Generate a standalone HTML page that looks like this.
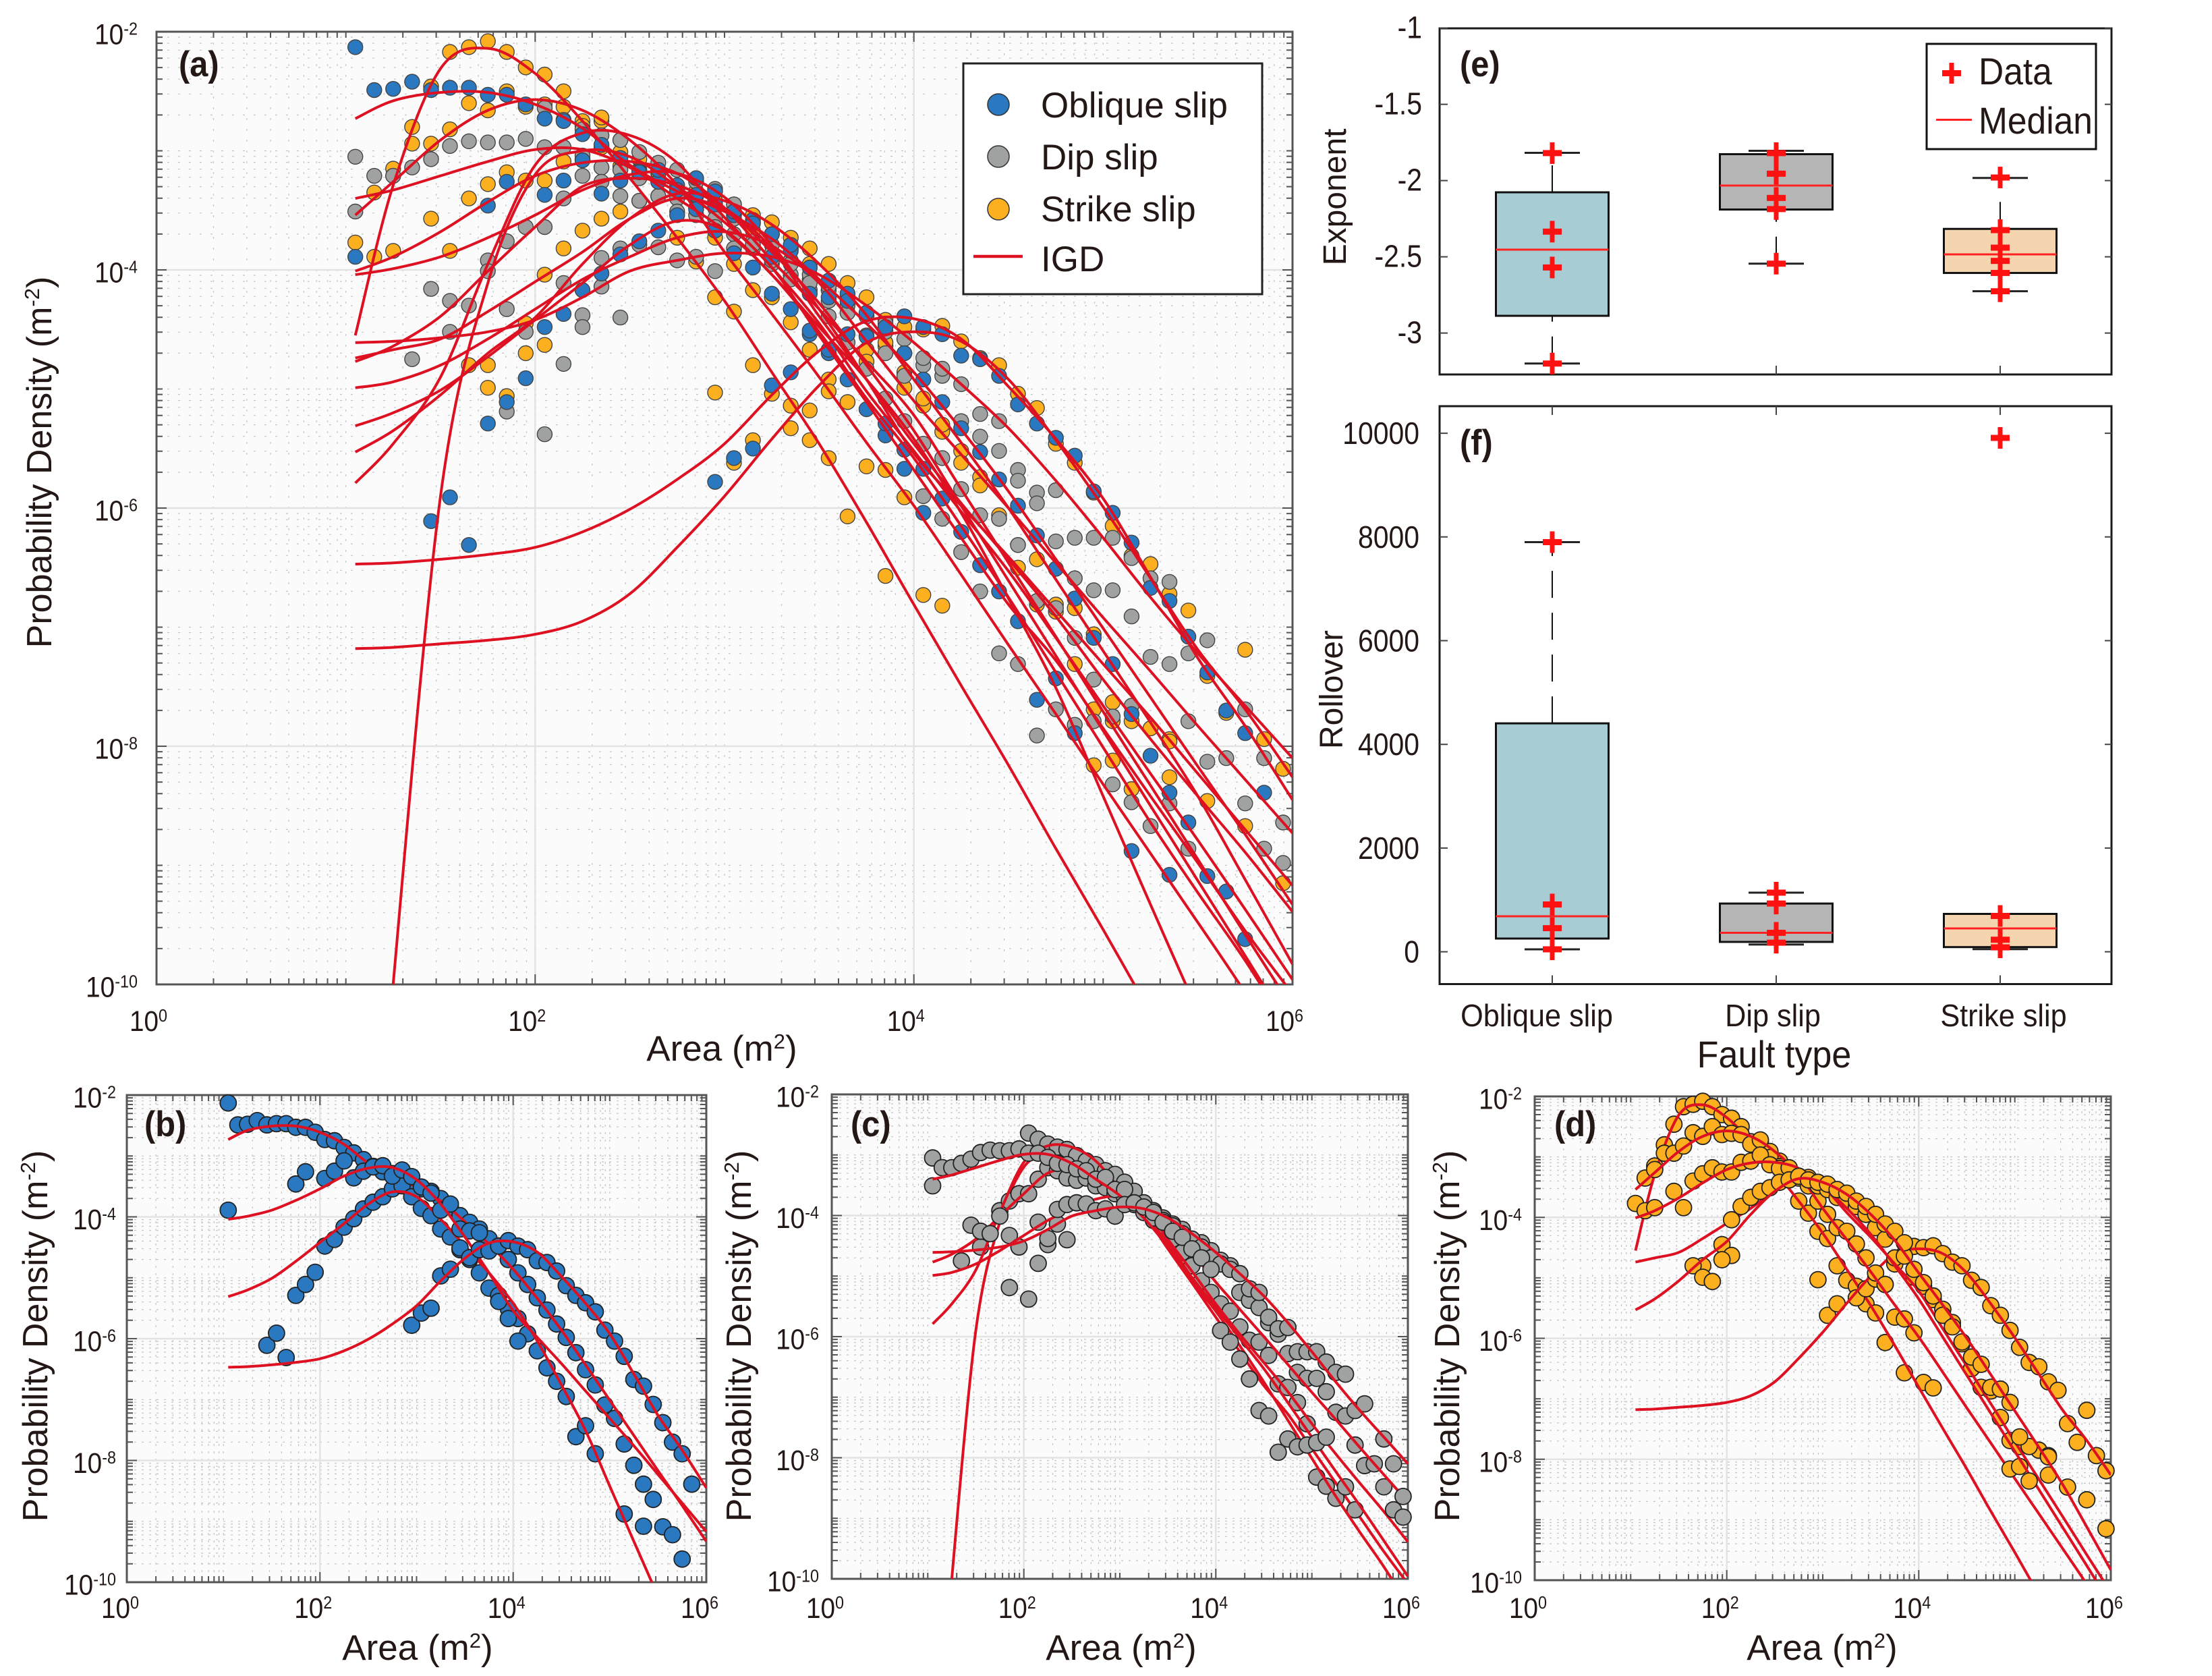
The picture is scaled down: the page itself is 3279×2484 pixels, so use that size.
<!DOCTYPE html>
<html lang="en">
<head>
<meta charset="utf-8">
<title>Fault area probability density</title>
<style>
html,body{margin:0;padding:0;background:#fff;width:3279px;height:2484px;overflow:hidden;}
svg{display:block;font-family:"Liberation Sans",Arial,sans-serif;fill:#231815;overflow:hidden;}
text{fill:#231815;}
</style>
</head>
<body>
<svg id="figure" xmlns="http://www.w3.org/2000/svg" width="3279" height="2484" viewBox="0 0 3279 2484">
  <rect x="0" y="0" width="3279" height="2484" style="fill:#fff"/>
  <g id="panel-a"></g>
  <g id="panel-b"></g>
  <g id="panel-c"></g>
  <g id="panel-d"></g>
  <g id="panel-e"></g>
  <g id="panel-f"></g>

  <!-- axis titles -->
  <text transform="translate(76,685) rotate(-90)" text-anchor="middle" font-size="52">Probability Density (m<tspan dy="-18" font-size="31">-2</tspan><tspan dy="18">)</tspan></text>
  <text x="1070" y="1572" text-anchor="middle" font-size="53">Area (m<tspan dy="-18" font-size="31">2</tspan><tspan dy="18">)</tspan></text>
  <text transform="translate(70,1980) rotate(-90)" text-anchor="middle" font-size="52">Probability Density (m<tspan dy="-18" font-size="31">-2</tspan><tspan dy="18">)</tspan></text>
  <text x="619" y="2460" text-anchor="middle" font-size="53">Area (m<tspan dy="-18" font-size="31">2</tspan><tspan dy="18">)</tspan></text>
  <text transform="translate(1113,1980) rotate(-90)" text-anchor="middle" font-size="52">Probability Density (m<tspan dy="-18" font-size="31">-2</tspan><tspan dy="18">)</tspan></text>
  <text x="1662" y="2460" text-anchor="middle" font-size="53">Area (m<tspan dy="-18" font-size="31">2</tspan><tspan dy="18">)</tspan></text>
  <text transform="translate(2163,1980) rotate(-90)" text-anchor="middle" font-size="52">Probability Density (m<tspan dy="-18" font-size="31">-2</tspan><tspan dy="18">)</tspan></text>
  <text x="2701" y="2460" text-anchor="middle" font-size="53">Area (m<tspan dy="-18" font-size="31">2</tspan><tspan dy="18">)</tspan></text>
  <text transform="translate(1995,292) rotate(-90)" text-anchor="middle" font-size="48">Exponent</text>
  <text transform="translate(1990,1022) rotate(-90)" text-anchor="middle" font-size="48">Rollover</text>
  <text transform="translate(2630,1582) scale(.93,1)" text-anchor="middle" font-size="56">Fault type</text>
  <text transform="translate(2278,1521) scale(.94,1)" text-anchor="middle" font-size="46">Oblique slip</text>
  <text transform="translate(2628,1521) scale(.94,1)" text-anchor="middle" font-size="46">Dip slip</text>
  <text transform="translate(2970,1521) scale(.94,1)" text-anchor="middle" font-size="46">Strike slip</text>

  <!-- panel letters -->
  <text transform="translate(265,113) scale(.92,1)" font-size="53" font-weight="bold">(a)</text>
  <text transform="translate(214,1684) scale(.92,1)" font-size="53" font-weight="bold">(b)</text>
  <text transform="translate(1261,1684) scale(.92,1)" font-size="53" font-weight="bold">(c)</text>
  <text transform="translate(2304,1684) scale(.92,1)" font-size="53" font-weight="bold">(d)</text>
  <text transform="translate(2164,113) scale(.92,1)" font-size="53" font-weight="bold">(e)</text>
  <text transform="translate(2164,674) scale(.92,1)" font-size="53" font-weight="bold">(f)</text>

  <!-- legend a -->
  <g>
    <rect x="1428" y="94" width="443" height="342" style="fill:#fff;stroke:#222;stroke-width:3"/>
    <circle cx="1480" cy="155" r="16" style="fill:#2a78c0;stroke:#333;stroke-width:1.5"/>
    <text x="1543" y="174" font-size="53">Oblique slip</text>
    <circle cx="1480" cy="232" r="16" style="fill:#a0a2a2;stroke:#333;stroke-width:1.5"/>
    <text x="1543" y="251" font-size="53">Dip slip</text>
    <circle cx="1480" cy="310" r="16" style="fill:#fdb01f;stroke:#333;stroke-width:1.5"/>
    <text x="1543" y="328" font-size="53">Strike slip</text>
    <line x1="1443" y1="380" x2="1516" y2="380" style="stroke:#dd1122;stroke-width:4.5"/>
    <text x="1543" y="402" font-size="53">IGD</text>
  </g>

  <g id="panel-e-legend">
    <rect x="2856" y="65" width="251" height="156" style="fill:#fff;stroke:#111;stroke-width:3"/>
    <rect x="2879" y="104" width="28" height="9" style="fill:#fe1111"/>
    <rect x="2889.5" y="93" width="7" height="31" style="fill:#fe1111"/>
    <text transform="translate(2933,125) scale(.92,1)" font-size="56">Data</text>
    <line x1="2870" y1="177.500" x2="2923" y2="177.500" style="stroke:#f22;stroke-width:3"/>
    <text transform="translate(2933,198) scale(.92,1)" font-size="56">Median</text>
  </g>
</svg>

<script>
const _ = null;
// ---------- categories ----------
const areaBinsLog = [1.05,1.15,1.25,1.35,1.45,1.55,1.65,1.75,1.85,1.95,2.05,2.15,2.25,2.35,2.45,2.55,2.65,2.75,2.85,2.95,3.05,3.15,3.25,3.35,3.45,3.55,3.65,3.75,3.85,3.95,4.05,4.15,4.25,4.35,4.45,4.55,4.65,4.75,4.85,4.95,5.05,5.15,5.25,5.35,5.45,5.55,5.65,5.75,5.85,5.95];
const curveLogAreas = [1.05,1.25,1.5,1.75,2,2.25,2.5,2.75,3,3.25,3.5,3.75,4,4.25,4.5,4.75,5,5.25,5.5,5.75,6];
const xTickExponents = [0,2,4,6];
const yTickExponents = [-2,-4,-6,-8,-10];

// ---------- oblique slip points (log10 density per area bin) ----------
const obliquePoints1 = [-2.13,-2.49,-2.48,-2.42,-2.49,-2.47,-2.47,-2.53,-2.53,-2.61,
 -2.73,-2.75,-2.86,-2.95,-3.06,-3.17,-3.26,-3.29,-3.37,-3.45,
 -3.54,-3.58,-3.70,-3.84,-3.98,-4.09,-4.20,-4.36,-4.48,-4.70,
 -4.92,-5.11,-5.33,-5.53,-5.76,-5.98,-6.23,-6.51,-6.76,-7.09,
 -7.31,-7.73,-8.08,-8.39,-8.64,-9.09,-9.22,-9.62];
const obliquePoints2 = [-3.89,_,_,_,_,_,_,-3.46,-3.26,_,
 -3.37,-3.25,-3.08,-3.36,-3.25,-3.18,-3.16,-3.33,-3.23,-3.34,
 -3.51,-3.61,-3.89,-3.79,-4.20,-4.23,-4.26,_,-5.39,-5.67,-6.04];
const obliquePoints3 = [_,_,_,_,_,_,_,-5.29,-5.11,-4.91,
 -4.48,-4.37,-4.17,-4.03,-3.87,-3.76,-3.67,-3.54,-3.49,-3.67,
 -3.86,-3.98,-4.20,-4.33,-4.54,-4.70,-4.92,-5.17,-5.29,-5.51,
 -5.67,-5.92,-6.20,-6.48,-6.70,-6.95,-7.61,-7.43,-7.89,_,
 _,-8.88,_,-9.08];
const obliquePoints4 = [_,_,_,_,-6.11,-5.91,-6.31,_,_,_,
 _,_,_,_,_,_,_,_,_,-5.78,
 -5.58,-5.50,-4.97,-4.86,-4.51,-4.67,-4.54,-4.56,-4.48,-4.39,
 -4.48,-4.54,-4.72,-4.75,-4.89,-5.13,-5.29,-5.41,-5.56,-5.86,
 -6.04,-6.29,-6.67,-6.78,-7.08,-7.38,-7.70,-7.89,-8.39];

// ---------- dip slip points ----------
const dipPoints1 = [-3.05,-3.21,-3.21,-3.14,-3.07,-2.96,-2.92,-2.93,-2.93,-2.90,
 -2.97,-2.97,-3.04,-3.14,-3.16,-3.23,-3.26,-3.40,-3.37,-3.57,
 -3.57,-3.82,-3.95,-4.04,-4.08,-4.17,-4.30,-4.39,-4.52,-4.70,
 -4.80,-4.89,-4.96,-5.21,-5.27,-5.68,-5.87,-5.85,-6.25,-6.25,
 -6.25,-6.42,-6.59,-6.62,-7.22,-7.11,_,-7.69,-8.10,-8.64];
const dipPoints2 = [_,_,_,_,_,_,_,_,_,_,
 -2.64,-2.74,-2.82,-2.87,-2.91,-3.01,-3.10,-3.16,-3.26,-3.32,
 -3.45,-3.60,-3.79,-3.92,-4.04,-4.14,-4.23,-4.39,-4.45,-4.58,
 -4.74,-4.83,-5.27,-5.40,-5.52,-5.77,-5.96,-6.28,-6.59,-6.69,
 -6.69,-6.91,-7.25,-7.31,-7.79,-8.13,-8.10,-8.48,-8.86,-8.98];
const dipPoints3 = [-3.51,_,_,_,_,_,_,-3.92,-3.76,-3.64,
 -3.64,-3.40,-3.21,-3.26,-3.38,-3.42,-3.38,-3.51,-3.54,-3.64,
 -3.70,-3.76,-3.92,-4.08,-4.17,-4.39,-4.61,-4.83,-5.08,-5.27,
 -5.46,-5.58,-5.84,-6.06,-6.09,-6.31,-6.78,-6.84,-7.09,-7.44,
 -8.32,-8.47,-8.67,-8.48,-8.86];
const dipPoints4 = [_,_,_,-4.75,-4.16,-4.26,-4.30,-4.01,-4.33,-4.52,
 _,-4.11,-4.38,-4.14,-4.40];
const dipPoints5 = [_,_,_,_,_,_,_,_,_,_,
 _,_,_,-3.90,-3.82,-3.79,-3.81,-3.92,-3.89,-4.01,
 -3.82,-3.79,-3.86,-3.95,-4.11,-4.26,-4.36,-4.55,-4.70,-4.89,
 -5.90,-6.09,-6.37,-6.70,-7.22,-7.31,-7.91,-7.69,-7.82,-7.79,
 -7.75,-7.66];
const dipPoints6 = [_,_,_,_,_,-4.52,_,_,-5.19,_,-5.38,-4.79,-4.48];

// ---------- strike slip points ----------
const strikePoints1 = [_,-3.35,-3.15,-2.80,-2.46,-2.17,-2.13,-2.08,-2.17,-2.30,
 -2.36,-2.50,-2.75,-2.75,-2.91,-3.07,-3.23,-3.73,-3.93,-4.23,
 -4.35,-4.80,-5.04,-5.14,-5.43,-5.58,-6.07,_,-6.57,_,
 -6.73,-6.82];
const strikePoints2 = [_,_,-3.21,-2.94,-2.94,-2.82,-2.60,-2.66,-2.50,-2.63,
 -2.61,-2.63,-2.79,-2.72,-3.01,-3.16,-3.19,-3.35,-3.48,-3.73,
 -3.95,-4.17,-4.23,-4.44,-4.67,-4.92,-5.11,-5.65,-5.68,-5.91];
const strikePoints3 = [-3.77,-3.89,-3.84,_,-3.57,-3.84,-3.40,-3.28,-3.18,-3.25,
 -3.25,-3.09,-3.07,-2.97,-3.13,-3.19,-3.18,-3.32,-3.34,-3.48,
 -3.54,-3.67,-3.70,-3.82,-3.95,-4.17,-4.36,-4.67,-4.64,-4.99,
 -5.14,-5.36,-5.52,-5.74,-6.09,-6.50,-6.81,-6.87,-7.31,-7.69,
 -7.79,_,-7.85,-7.94];
const strikePoints4 = [_,_,_,_,_,_,-4.80,-4.99,-5.06,-4.70,
 -4.04,-3.82,-3.67,-3.57,-3.51,-3.42,-3.38,-3.32,-3.38,-3.42,
 -3.45,-3.54,-3.60,-3.73,-3.82,-3.95,-4.11,-4.23,-4.42,-4.86,
 -5.08,-5.30,-5.62,-5.81,-6.06,-6.31,-6.43,-6.81,-6.84,-7.06,
 -7.63,-8.36,_,-8.26,_,-8.46,_,-8.67,_,-9.15];
const strikePoints5 = [_,_,_,_,_,_,_,_,_,_,
 _,_,_,_,_,_,_,_,_,-5.03,
 -5.62,-5.43,_,-5.33,-5.18,-5.02,-5.11,-4.77,-4.61,-4.48,
 -4.50,-4.47,-4.60,-4.74,-4.80,-5.04,-5.16,-5.46,-5.62,-5.87,
 -6.15,-6.40,-6.47,-6.72,-6.86,-7.41,-7.72,-7.19,-7.94,-8.19];
const strikePoints6 = [_,_,_,_,_,_,_,-4.80,_,-4.45,-4.63,_,_,_,_,_,_,_,_,_,
 _,_,_,_,_,_,_,_,_,_,_,_,_,_,_,_,_,_,_,-8.16,
 -8.12,-7.79,_,-7.96];

// ---------- IGD fit curves (log10 density at curveLogAreas) ----------
const obliqueCurve1 = [-2.73,-2.58,-2.51,-2.51,-2.61,-2.81,-3.12,-3.34,-3.51,-3.74,-4.08,-4.45,-4.86,-5.34,-5.86,-6.43,-7.01,-7.59,-8.17,-8.74,-9.33];
const obliqueCurve2 = [-4.04,-3.99,-3.89,-3.73,-3.54,-3.33,-3.20,-3.19,-3.39,-3.79,-4.33,-4.92,-5.54,-5.98,-6.41,-6.86,-7.31,-7.76,-8.23,-8.70,-9.17];
const obliqueCurve3 = [-5.31,-5.20,-5.01,-4.73,-4.42,-4.11,-3.79,-3.59,-3.67,-4.04,-4.48,-4.92,-5.42,-6.04,-6.76,-7.51,-8.42,-9.33,-10.23,-11.14,-12.05];
const obliqueCurve4 = [-6.47,-6.46,-6.43,-6.39,-6.33,-6.20,-6.01,-5.76,-5.46,-5.05,-4.68,-4.43,-4.41,-4.58,-4.98,-5.42,-5.92,-6.58,-7.26,-7.83,-8.45];

const dipCurve1 = [-3.40,-3.33,-3.21,-3.09,-2.99,-2.99,-3.14,-3.40,-3.67,-4.04,-4.52,-5.08,-5.58,-6.15,-6.75,-7.38,-8.01,-8.64,-9.23,-9.80,-10.43];
const dipCurve2 = [-5.79,-5.46,-4.90,-3.95,-3.12,-2.85,-2.87,-3.10,-3.56,-3.98,-4.45,-5.02,-5.52,-6.03,-6.53,-7.09,-7.66,-8.23,-8.79,-9.37,-9.96];
const dipCurve3 = [-4.77,-4.64,-4.39,-4.01,-3.64,-3.30,-3.23,-3.29,-3.48,-3.82,-4.39,-4.92,-5.46,-5.96,-6.43,-6.91,-7.44,-7.94,-8.42,-8.89,-9.39];
const dipCurve4 = [-4.99,-4.94,-4.80,-4.58,-4.33,-4.08,-3.89,-3.73,-3.68,-3.80,-4.11,-4.60,-5.10,-5.55,-6.00,-6.46,-6.92,-7.37,-7.83,-8.28,-8.73];
const dipCurve5 = [-4.61,-4.60,-4.57,-4.52,-4.42,-4.23,-4.01,-3.92,-3.86,-3.89,-4.04,-4.30,-4.61,-4.96,-5.33,-5.77,-6.25,-6.75,-7.22,-7.66,-8.10];
const dipCurve6 = [-16,-10,-5.90,-4.11,-3.20,-3.00,-3.05,-3.30,-3.60,-3.98,-4.55,-5.11,-5.68,-6.25,-6.81,-7.28,-7.85,-8.42,-8.98,-9.55,-10.08];

const strikeCurve1 = [-4.55,-3.29,-2.31,-2.14,-2.35,-2.75,-3.23,-3.73,-4.26,-4.86,-5.46,-6.12,-6.81,-7.49,-8.16,-8.86,-9.54,-10.24,-10.93,-11.62,-12.31];
const strikeCurve2 = [-3.54,-3.26,-2.91,-2.66,-2.57,-2.66,-2.91,-3.29,-3.85,-4.37,-4.90,-5.45,-5.98,-6.56,-7.15,-7.73,-8.32,-8.90,-9.48,-10.07,-10.72];
const strikeCurve3 = [-4.01,-3.89,-3.68,-3.43,-3.21,-3.10,-3.09,-3.19,-3.48,-3.92,-4.33,-4.77,-5.22,-5.84,-6.46,-7.08,-7.71,-8.33,-8.95,-9.58,-10.20];
const strikeCurve4 = [-4.74,-4.67,-4.58,-4.35,-4.10,-3.85,-3.57,-3.40,-3.50,-3.85,-4.28,-4.80,-5.35,-5.98,-6.61,-7.24,-7.87,-8.50,-9.13,-9.76,-10.40];
const strikeCurve5 = [-5.53,-5.35,-5.05,-4.70,-4.40,-3.95,-3.57,-3.36,-3.42,-3.62,-3.95,-4.38,-4.92,-5.45,-6.00,-6.60,-7.20,-7.80,-8.42,-9.12,-9.83];
const strikeCurve6 = [-7.18,-7.17,-7.14,-7.11,-7.06,-6.95,-6.72,-6.33,-5.90,-5.42,-4.97,-4.61,-4.52,-4.60,-4.92,-5.43,-5.99,-6.59,-7.19,-7.69,-8.26];

// ---------- box plot: exponent ----------
const exponentTicks = [-1,-1.5,-2,-2.5,-3];
const exponentQ1 = [-2.887,-2.19,-2.606];
const exponentMedian = [-2.453,-2.033,-2.484];
const exponentQ3 = [-2.077,-1.827,-2.317];
const exponentWhiskerLow = [-3.2,-2.545,-2.726];
const exponentWhiskerHigh = [-1.818,-1.805,-1.983];
const exponentObliqueData = [-1.82,-2.335,-2.57,-3.2];
const exponentDipData = [-1.82,-1.955,-2.114,-2.187,-2.545];
const exponentStrikeData = [-1.98,-2.325,-2.44,-2.527,-2.606,-2.726];

// ---------- box plot: rollover ----------
const rolloverTicks = [0,2000,4000,6000,8000,10000];
const rolloverQ1 = [255,190,90];
const rolloverMedian = [685,365,450];
const rolloverQ3 = [4405,930,730];
const rolloverWhiskerLow = [47,140,50];
const rolloverWhiskerHigh = [7900,1140,730];
const rolloverObliqueData = [7900,912,455,47];
const rolloverDipData = [1140,930,365,175];
const rolloverStrikeData = [9910,690,232,85];

const NS = 'http://www.w3.org/2000/svg';
function mk(tag, parent, attrs) {
  const el = document.createElementNS(NS, tag);
  for (const k in attrs) el.setAttribute(k, attrs[k]);
  parent.appendChild(el);
  return el;
}

const ORANGE = '#fdb01f', GRAY = '#a0a2a2', BLUE = '#2a78c0', RED = '#dd1122';
const CURVE_FLOOR = -10.8;

function logMinorValues(lo, hi) {
  const out = [];
  for (let d = lo; d < hi; d++) {
    for (let m = 2; m <= 9; m++) out.push(d + Math.log10(m));
  }
  return out;
}

function catmull(pts) {
  let d = 'M' + pts[0][0].toFixed(1) + ' ' + pts[0][1].toFixed(1);
  for (let i = 0; i < pts.length - 1; i++) {
    const p0 = pts[Math.max(i - 1, 0)], p1 = pts[i], p2 = pts[i + 1], p3 = pts[Math.min(i + 2, pts.length - 1)];
    const c1x = p1[0] + (p2[0] - p0[0]) / 6, c1y = p1[1] + (p2[1] - p0[1]) / 6;
    const c2x = p2[0] - (p3[0] - p1[0]) / 6, c2y = p2[1] - (p3[1] - p1[1]) / 6;
    d += 'C' + c1x.toFixed(1) + ' ' + c1y.toFixed(1) + ' ' + c2x.toFixed(1) + ' ' + c2y.toFixed(1) + ' ' + p2[0].toFixed(1) + ' ' + p2[1].toFixed(1);
  }
  return d;
}

// keep only the part of a curve near the plot window, cutting where it leaves
function visibleCurve(values) {
  const out = [];
  values.forEach((v, i) => {
    if (i > 0) {
      const prev = values[i - 1];
      if ((prev < CURVE_FLOOR) !== (v < CURVE_FLOOR)) {
        const t = (CURVE_FLOOR - prev) / (v - prev);
        out.push([curveLogAreas[i - 1] + t * (curveLogAreas[i] - curveLogAreas[i - 1]), CURVE_FLOOR]);
      }
    }
    if (v >= CURVE_FLOOR) out.push([curveLogAreas[i], v]);
  });
  return out;
}

function drawLogPanel(p) {
  const root = document.getElementById(p.id);
  const xAt = v => p.left + (v / 6) * (p.right - p.left);
  const yAt = v => p.top + ((-2 - v) / 8) * (p.bottom - p.top);

  const bg = mk('rect', root, {x: p.left, y: p.top, width: p.right - p.left, height: p.bottom - p.top, style: 'fill:#fbfbfb'});
  
  

  const xMinor = logMinorValues(0, 6).concat([1, 3, 5]);
  const yMinor = logMinorValues(-10, -2).concat([-3, -5, -7, -9]);
  let gd = '';
  xMinor.forEach(v => { gd += 'M' + xAt(v).toFixed(1) + ' ' + p.top + 'V' + p.bottom; });
  yMinor.forEach(v => { gd += 'M' + p.left + ' ' + yAt(v).toFixed(1) + 'H' + p.right; });
  const grid = mk('path', root, {d: gd, style: 'fill:none;stroke:#c4c4c4;stroke-width:1.2;stroke-dasharray:' + p.dash});
  
  

  let md = '';
  xTickExponents.forEach(v => { md += 'M' + xAt(v).toFixed(1) + ' ' + p.top + 'V' + p.bottom; });
  yTickExponents.forEach(v => { md += 'M' + p.left + ' ' + yAt(v).toFixed(1) + 'H' + p.right; });
  const major = mk('path', root, {d: md, style: 'fill:none;stroke:#e3e3e3;stroke-width:2.5'});
  
  

  let td = '';
  const minorLen = 9, majorLen = 15;
  xMinor.forEach(v => { const x = xAt(v).toFixed(1); td += 'M' + x + ' ' + p.top + 'v' + minorLen + 'M' + x + ' ' + p.bottom + 'v-' + minorLen; });
  yMinor.forEach(v => { const y = yAt(v).toFixed(1); td += 'M' + p.left + ' ' + y + 'h' + minorLen + 'M' + p.right + ' ' + y + 'h-' + minorLen; });
  xTickExponents.forEach(v => { const x = xAt(v).toFixed(1); td += 'M' + x + ' ' + p.top + 'v' + majorLen + 'M' + x + ' ' + p.bottom + 'v-' + majorLen; });
  yTickExponents.forEach(v => { const y = yAt(v).toFixed(1); td += 'M' + p.left + ' ' + y + 'h' + majorLen + 'M' + p.right + ' ' + y + 'h-' + majorLen; });
  const ticks = mk('path', root, {d: td, style: 'fill:none;stroke:#555;stroke-width:2'});
  
  

  const clipId = p.id + '-clip';
  const defs = mk('defs', root, {});
  const cp = mk('clipPath', defs, {id: clipId});
  mk('rect', cp, {x: p.left, y: p.top, width: p.right - p.left, height: p.bottom - p.top});

  const frame = mk('rect', root, {x: p.left, y: p.top, width: p.right - p.left, height: p.bottom - p.top, style: 'fill:none;stroke:#555;stroke-width:3'});
  
  

  p.layers.forEach(layer => {
    (layer.series || []).forEach(values => {
      values.forEach((v, i) => {
        if (v === null) return;
        const c = mk('circle', root, {cx: xAt(areaBinsLog[i]).toFixed(1), cy: yAt(v).toFixed(1), r: p.r, style: 'fill:' + layer.color + ';stroke:' + p.edge + ';stroke-width:' + p.edgeWidth});
        
        
      });
    });
    (layer.curves || []).forEach(values => {
      const pts = visibleCurve(values).map(q => [xAt(q[0]), yAt(q[1])]);
      const path = mk('path', root, {d: catmull(pts), 'clip-path': 'url(#' + clipId + ')', style: 'fill:none;stroke:' + RED + ';stroke-width:4;stroke-linejoin:round'});
      
      
    });
  });

  yTickExponents.forEach(v => {
    const t = mk('text', root, {transform: 'translate(' + p.yLabelX + ',' + (yAt(v) + 18.5).toFixed(1) + ') scale(.9,1)', 'text-anchor': 'end', 'font-size': 43});
    
    
    t.appendChild(document.createTextNode('10'));
    const s = mk('tspan', t, {dy: -14, 'font-size': 26});
    s.textContent = String(v);
  });
  xTickExponents.forEach(v => {
    const t = mk('text', root, {transform: 'translate(' + (xAt(v) + p.xLabelShift).toFixed(1) + ',' + p.xLabelY + ') scale(.9,1)', 'text-anchor': 'middle', 'font-size': 43});
    
    
    t.appendChild(document.createTextNode('10'));
    const s = mk('tspan', t, {dy: -14, 'font-size': 26});
    s.textContent = String(v);
  });
}

function drawBoxPanel(b) {
  const root = document.getElementById(b.id);
  const bg = mk('rect', root, {x: b.left, y: b.top, width: b.right - b.left, height: b.bottom - b.top, style: 'fill:#fff;stroke:#1a1a1a;stroke-width:3'});
  
  

  b.ticks.forEach(v => {
    const y = b.yAt(v);
    const tk = mk('path', root, {d: 'M' + b.left + ' ' + y + 'h12M' + b.right + ' ' + y + 'h-10', style: 'fill:none;stroke:#444;stroke-width:2'});
    
    
    const t = mk('text', root, {transform: 'translate(' + b.labelX + ',' + (y + b.labelDy).toFixed(1) + ') scale(.89,1)', 'text-anchor': 'end', 'font-size': 46});
    
    
    t.textContent = String(v);
  });

  b.centers.forEach((cx, i) => {
    let d = 'M' + cx + ' ' + b.bottom + 'v-13';
    if (b.topTicks) d += 'M' + cx + ' ' + b.top + 'v13';
    const tk = mk('path', root, {d: d, style: 'fill:none;stroke:#444;stroke-width:2'});
    
    

    const yQ1 = b.yAt(b.q1[i]), yQ3 = b.yAt(b.q3[i]), yMed = b.yAt(b.median[i]);
    const yLow = b.yAt(b.low[i]), yHigh = b.yAt(b.high[i]);
    if (yHigh < yQ3 - 1) {
      const wh = mk('line', root, {x1: cx, y1: yQ3, x2: cx, y2: yHigh, style: 'stroke:#111;stroke-width:2;stroke-dasharray:40 22'});
      
      
      const cap = mk('line', root, {x1: cx - 41, y1: yHigh, x2: cx + 41, y2: yHigh, style: 'stroke:#222;stroke-width:3'});
      
      
    }
    const wl = mk('line', root, {x1: cx, y1: yLow, x2: cx, y2: yQ1, style: 'stroke:#111;stroke-width:2;stroke-dasharray:40 22'});
    
    
    const capL = mk('line', root, {x1: cx - 41, y1: yLow, x2: cx + 41, y2: yLow, style: 'stroke:#222;stroke-width:3'});
    
    

    const box = mk('rect', root, {x: cx - 83.5, y: yQ3, width: 167, height: yQ1 - yQ3, style: 'fill:' + b.fills[i] + ';stroke:#111;stroke-width:3'});
    
    
    const med = mk('line', root, {x1: cx - 83.5, y1: yMed, x2: cx + 83.5, y2: yMed, style: 'stroke:#f22;stroke-width:3'});
    
    

    b.points[i].forEach(v => {
      const y = b.yAt(v);
      const g = mk('g', root, {});
      
      
      mk('rect', g, {x: cx - 14, y: y - 4.5, width: 28, height: 9, style: 'fill:#fe1111'});
      mk('rect', g, {x: cx - 3.5, y: y - 16, width: 7, height: 32, style: 'fill:#fe1111'});
    });
  });
}

const orangeAll = [strikePoints1, strikePoints2, strikePoints3, strikePoints4, strikePoints5, strikePoints6];
const grayAll = [dipPoints1, dipPoints2, dipPoints3, dipPoints4, dipPoints5, dipPoints6];
const blueAll = [obliquePoints1, obliquePoints2, obliquePoints3, obliquePoints4];
const allCurves = [obliqueCurve1, obliqueCurve2, obliqueCurve3, obliqueCurve4, dipCurve1, dipCurve2, dipCurve3, dipCurve4, dipCurve5, dipCurve6, strikeCurve1, strikeCurve2, strikeCurve3, strikeCurve4, strikeCurve5, strikeCurve6];

drawLogPanel({id: 'panel-a', left: 232, right: 1916, top: 47, bottom: 1459, r: 11, edge: '#444', edgeWidth: 1.4, dash: '3 13', yLabelX: 204, xLabelShift: -12, xLabelY: 1528,
  layers: [
    {name: 'strike-slip', color: ORANGE, series: orangeAll},
    {name: 'dip-slip', color: GRAY, series: grayAll},
    {name: 'oblique-slip', color: BLUE, series: blueAll},
    {curves: allCurves}
  ]});

// panels b-d: each fit is drawn with its own points, so later points cover earlier curves
function fitLayer(name, color, points, curve) {
  return {name: name, color: color, series: [points], curves: [curve]};
}
drawLogPanel({id: 'panel-b', left: 188, right: 1047, top: 1623, bottom: 2345, r: 12, edge: '#222', edgeWidth: 1.8, dash: '3 8', yLabelX: 172, xLabelShift: -10, xLabelY: 2398,
  layers: [
    fitLayer('oblique-slip', BLUE, obliquePoints1, obliqueCurve1),
    fitLayer('oblique-slip', BLUE, obliquePoints3, obliqueCurve3),
    fitLayer('oblique-slip', BLUE, obliquePoints2, obliqueCurve2),
    fitLayer('oblique-slip', BLUE, obliquePoints4, obliqueCurve4)
  ]});
drawLogPanel({id: 'panel-c', left: 1233, right: 2087, top: 1622, bottom: 2340, r: 12, edge: '#222', edgeWidth: 1.8, dash: '3 8', yLabelX: 1214, xLabelShift: -10, xLabelY: 2398,
  layers: [
    fitLayer('dip-slip', GRAY, dipPoints6, dipCurve6),
    fitLayer('dip-slip', GRAY, dipPoints3, dipCurve3),
    fitLayer('dip-slip', GRAY, dipPoints2, dipCurve2),
    fitLayer('dip-slip', GRAY, dipPoints4, dipCurve4),
    fitLayer('dip-slip', GRAY, dipPoints1, dipCurve1),
    fitLayer('dip-slip', GRAY, dipPoints5, dipCurve5)
  ]});
drawLogPanel({id: 'panel-d', left: 2275, right: 3129, top: 1625, bottom: 2342, r: 12, edge: '#222', edgeWidth: 1.8, dash: '3 8', yLabelX: 2256, xLabelShift: -10, xLabelY: 2398,
  layers: [
    fitLayer('strike-slip', ORANGE, strikePoints1, strikeCurve1),
    fitLayer('strike-slip', ORANGE, strikePoints5, strikeCurve6),
    fitLayer('strike-slip', ORANGE, strikePoints2, strikeCurve2),
    fitLayer('strike-slip', ORANGE, strikePoints3, strikeCurve3),
    fitLayer('strike-slip', ORANGE, strikePoints6, strikeCurve4),
    fitLayer('strike-slip', ORANGE, strikePoints4, strikeCurve5)
  ]});

const boxCenters = [2301, 2633, 2965];
const boxFills = ['#a8ccd4', '#b5b5b5', '#f4d5b0'];
const boxNames = ['oblique', 'dip', 'strike'];
drawBoxPanel({id: 'panel-e', left: 2134, right: 3130, top: 42, bottom: 555, centers: boxCenters, fills: boxFills, names: boxNames, topTicks: false,
  yAt: v => 41.6 + (-1 - v) * 226, ticks: exponentTicks, labelX: 2108, labelDy: 15,
  q1: exponentQ1, median: exponentMedian, q3: exponentQ3, low: exponentWhiskerLow, high: exponentWhiskerHigh,
  points: [exponentObliqueData, exponentDipData, exponentStrikeData]});
drawBoxPanel({id: 'panel-f', left: 2134, right: 3130, top: 602, bottom: 1458.5, centers: boxCenters, fills: boxFills, names: boxNames, topTicks: true,
  yAt: v => 1410.6 - v * 153.7 / 2000, ticks: rolloverTicks, labelX: 2104, labelDy: 16,
  q1: rolloverQ1, median: rolloverMedian, q3: rolloverQ3, low: rolloverWhiskerLow, high: rolloverWhiskerHigh,
  points: [rolloverObliqueData, rolloverDipData, rolloverStrikeData]});

// keep the exponent legend above the exponent panel
const fig = document.getElementById('figure');
fig.appendChild(document.getElementById('panel-e-legend'));
</script>
</body>
</html>
